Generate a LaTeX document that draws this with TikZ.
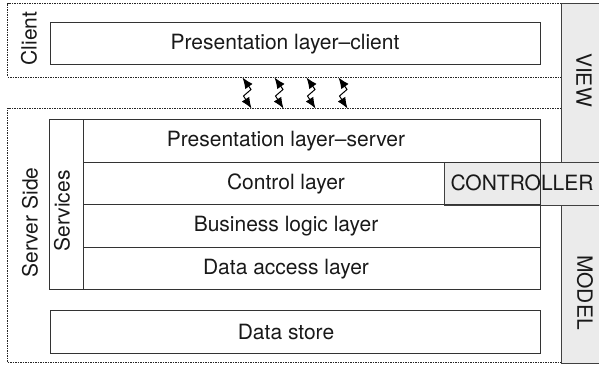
\documentclass[tikz,border=0pt]{standalone}
\usepackage{fontspec}
\setmainfont{TeX Gyre Heros}
\usetikzlibrary{arrows.meta}

\begin{document}
\begin{tikzpicture}[x=1pt, y=1pt,
    zone/.style={rectangle, draw=black!85, line width=0.9pt, dash pattern=on 1.5pt off 1pt, inner sep=0pt, outer sep=0pt},
    band/.style={rectangle, draw=black!75, line width=0.9pt, fill=black!8, inner sep=0pt, outer sep=0pt},
    layer/.style={rectangle, draw=black!80, line width=1pt, minimum height=42.5pt, inner sep=0pt, outer sep=0pt},
    lbl/.style={font=\fontsize{21}{25}\selectfont, text=black!90, inner sep=0pt},
    link/.style={{Latex[length=11pt,width=9pt]}-{Latex[length=11pt,width=9pt]}, line width=1pt}]

    \useasboundingbox (0,0) rectangle (599,366);
    \clip (0,0) rectangle (599,366);

    % client and server tiers
    \node[zone, minimum width=553.5pt, minimum height=74pt] (client) at (284.25,326) {};
    \node[zone, minimum width=553.5pt, minimum height=254pt] (server) at (284.25,130.5) {};

    % MVC bands
    \node[band, minimum width=45pt, minimum height=159.5pt] (view) at (583.5,283.25) {};
    \node[band, minimum width=45pt, minimum height=158pt] (model) at (583.5,82) {};
    \node[band, minimum width=162pt, minimum height=42.5pt] (controller) at (525,182.25) {};

    % layers
    \node[layer, minimum width=490.5pt, minimum height=42pt] (presclient) at (295.25,322) {};
    \node[layer, minimum width=34pt, minimum height=170.5pt] (services) at (66.5,161.25) {};
    \node[layer, minimum width=457pt, minimum height=43pt] (presserver) at (312,225) {};
    \node[layer, minimum width=457pt] (control) at (312,182.25) {};
    \node[layer, minimum width=457pt] (business) at (312,139.75) {};
    \node[layer, minimum width=457pt] (dataaccess) at (312,97.25) {};
    \node[layer, minimum width=490.5pt, minimum height=43pt] (datastore) at (295.25,33.5) {};

    % labels
    \node[lbl] (tpresclient) at (285,322) {Presentation layer–client};
    \node[lbl] (tpresserver) at (286,225) {Presentation layer–server};
    \node[lbl] (tcontrol) at (286,182.25) {Control layer};
    \node[lbl] (tbusiness) at (286,139.75) {Business logic layer};
    \node[lbl] (tdataaccess) at (286,97.25) {Data access layer};
    \node[lbl] (tdatastore) at (286,33.5) {Data store};
    \node[lbl, rotate=90] (tclient) at (29,327.5) {Client};
    \node[lbl, rotate=90] (tserver) at (30,143.5) {Server Side};
    \node[lbl, rotate=90] (tservices) at (62,155) {Services};
    \node[lbl, rotate=-90] (tview) at (584,286) {VIEW};
    \node[lbl, rotate=-90] (tmodel) at (585,73.5) {MODEL};
    \node[lbl] (tcontroller) at (522,183.5) {CONTROLLER};

    % requests between tiers
    \foreach \x [count=\i] in {242.5,274.5,306.5,338.5} {
        \coordinate (up\i) at (\x,288.5);
        \coordinate (dn\i) at (\x+9,257.5);
        \draw[link] (up\i) -- ++(7.5,-10.5) -- ++(1,-1.5) -- ++(-7.5,-6.5) -- (dn\i);
    }
\end{tikzpicture}
\end{document}
